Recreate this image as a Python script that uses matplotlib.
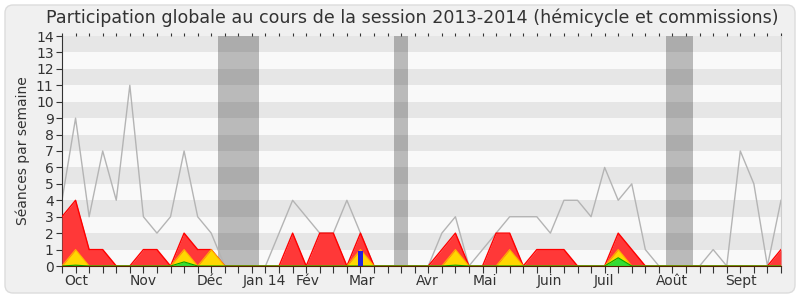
import matplotlib
matplotlib.use("Agg")
import matplotlib.pyplot as plt
from matplotlib.patches import FancyBboxPatch

# ---------------- données (une valeur par semaine) ----------------
weeks = list(range(54))

# séances totales par semaine (ligne grise)
total = [4, 9, 3, 7, 4, 11, 3, 2, 3, 7, 3, 2, 0, 0, 0, 0, 2, 4, 3, 2,
         2, 4, 2, 0, 0, 0, 0, 0, 2, 3, 0, 1, 2, 3, 3, 3, 2, 4, 4, 3,
         6, 4, 5, 1, 0, 0, 0, 0, 1, 0, 7, 5, 0, 4]

# présences du député (rouge)
presence = [3, 4, 1, 1, 0, 0, 1, 1, 0, 2, 1, 1, 0, 0, 0, 0, 0, 2, 0, 2,
            2, 0, 2, 0, 0, 0, 0, 0, 1, 2, 0, 0, 2, 2, 0, 1, 1, 1, 0, 0,
            0, 2, 1, 0, 0, 0, 0, 0, 0, 0, 0, 0, 0, 1]

# présences en hémicycle (jaune)
hemicycle = [0, 1, 0, 0, 0, 0, 0, 0, 0, 1, 0, 1, 0, 0, 0, 0, 0, 0, 0, 0,
             0, 0, 1, 0, 0, 0, 0, 0, 0, 1, 0, 0, 0, 1, 0, 0, 0, 0, 0, 0,
             0, 1, 0, 0, 0, 0, 0, 0, 0, 0, 0, 0, 0, 0]

# interventions (vert)
interventions = [0, 0.05, 0, 0, 0, 0, 0, 0, 0, 0.25, 0, 0, 0, 0, 0, 0, 0, 0, 0, 0,
                 0, 0, 0, 0, 0, 0, 0, 0, 0, 0.05, 0, 0, 0, 0, 0, 0, 0, 0, 0, 0,
                 0, 0.5, 0, 0, 0, 0, 0, 0, 0, 0, 0, 0, 0, 0]

# questions orales (barre bleue)
questions_weeks = [22]
questions = [0.9]

# vacances parlementaires
vacances = [(11.5, 14.5), (24.5, 25.5), (44.5, 46.5)]

month_labels = ["Oct", "Nov", "Déc", "Jan 14", "Fév", "Mar", "Avr", "Mai",
                "Juin", "Juil", "Août", "Sept"]
month_pos = [1.08, 5.96, 10.9, 14.9, 18.1, 22.1, 26.95, 31.15,
             35.9, 39.98, 44.95, 50.02]
# -------------------------------------------------------------------

TXT = "#333333"

fig = plt.figure(figsize=(8, 3), dpi=100, facecolor="white")
frame = FancyBboxPatch((5, 7), 790, 288, boxstyle="round,pad=0,rounding_size=8",
                       facecolor="#f0f0f0", edgecolor="#dcdcdc", lw=1,
                       transform=None, zorder=-10)
fig.add_artist(frame)

ax = fig.add_axes([62 / 800, 34 / 300, 719 / 800, 230 / 300])
ax.set_facecolor("#f9f9f9")

# bandes horizontales
for k in range(1, 14, 2):
    ax.axhspan(k, k + 1, color="#e6e6e6", lw=0, zorder=0)

for a, b in vacances:
    ax.axvspan(a, b, color="black", alpha=0.25, lw=0, zorder=1)

ax.plot(weeks, total, color="#b4b4b4", lw=1, zorder=2)

ax.fill_between(weeks, presence, color="#ff3838", lw=0, zorder=3)
ax.plot(weeks, presence, color="#ff0000", lw=1, zorder=3)
ax.fill_between(weeks, hemicycle, color="#ffd700", lw=0, zorder=4)
ax.plot(weeks, hemicycle, color="#ffb000", lw=0.8, zorder=4)
ax.fill_between(weeks, interventions, color="#33dd33", lw=0, zorder=5)
ax.plot(weeks, interventions, color="#00aa00", lw=0.8, zorder=5)
ax.bar(questions_weeks, questions, width=0.37, color="#2222dd", zorder=6)

ax.set_xlim(0, 53)
ax.set_ylim(0, 14)

ax.set_yticks(range(15))
ax.tick_params(axis="y", labelsize=10, labelcolor=TXT, length=4, color=TXT, pad=2)

ax.xaxis.remove_overlapping_locs = False
ax.set_xticks(weeks)
ax.set_xticklabels([])
ax.xaxis.set_ticks_position("both")
ax.tick_params(axis="x", which="major", length=5, color=TXT, top=True, bottom=True)
ax.set_xticks(month_pos, minor=True)
ax.set_xticklabels(month_labels, minor=True)
ax.tick_params(axis="x", which="minor", length=0, labelsize=10,
               labelcolor=TXT, pad=6, top=False)
# petits tirets en haut
for t in ax.xaxis.get_major_ticks():
    t.tick2line.set_markersize(2)

ax.spines["top"].set_visible(False)
ax.spines["right"].set_color("#cccccc")
ax.spines["left"].set_color(TXT)
ax.spines["bottom"].set_color("#552200")
ax.spines["bottom"].set_zorder(7)

ax.set_ylabel("Séances par semaine", fontsize=10, color=TXT, labelpad=4)

fig.text(412 / 800, 1 - 18 / 300,
         "Participation globale au cours de la session 2013-2014 (hémicycle et commissions)",
         ha="center", va="center", fontsize=12.6, color=TXT)

fig.savefig("out.png", dpi=100, facecolor="white")
